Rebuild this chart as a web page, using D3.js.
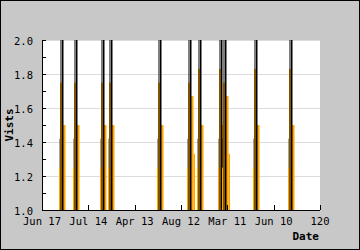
<!DOCTYPE html>
<html>
<head>
<meta charset="utf-8">
<script src="https://cdn.jsdelivr.net/npm/d3@7"></script>
<style>
  html, body { margin: 0; padding: 0; background: #c8c8c8; }
  svg { display: block; }
  text { font-family: "DejaVu Sans Mono", monospace; }
</style>
</head>
<body>
<div id="chart"></div>
<script>
// Tick labels on the x axis (one every 20 units)
var xTicks = [0, 20, 40, 60, 80, 100, 120];
var xLabels = ["Jun 17", "Jul 14", "Apr 13", "Aug 12", "Mar 11", "Jun 10", "120"];

// Spikes: position, dark shaded top, orange bar top, small extra bar
var spikeX   = [8.6, 14.7, 26.3, 29.8, 50.9, 63.9, 68.2, 77.3, 79.0, 92.4, 107.5];
var shadeTop = [1.75, 1.75, 1.75, 1.75, 1.75, 1.75, 1.83, 1.83, 1.75, 1.83, 1.83];
var barTop   = [1.5, 1.5, 1.5, 1.5, 1.5, 1.67, 1.5, 1.5, 1.67, 1.5, 1.5];
var extraTop = [null, null, null, null, null, 1.33, null, null, 1.33, null, null];
var lowTop = 1.25;

var yTicks = [1.0, 1.2, 1.4, 1.6, 1.8, 2.0];

var width = 360, height = 250;
var pLeft = 42, pRight = 320, pTop = 40, pBottom = 210;

var svg = d3.select("#chart").append("svg")
    .attr("width", width)
    .attr("height", height);

// background with frame
svg.append("rect")
    .attr("x", 0.5).attr("y", 0.5)
    .attr("width", width - 1).attr("height", height - 1)
    .attr("fill", "#c8c8c8")
    .attr("stroke", "#000");

svg.append("rect")
    .attr("x", pLeft).attr("y", pTop)
    .attr("width", pRight - pLeft).attr("height", pBottom - pTop)
    .attr("fill", "#fff");

var x = d3.scaleLinear().domain([0, 120]).range([pLeft, pRight]);
var y = d3.scaleLinear().domain([1, 2]).range([pBottom, pTop]);

// grid lines
svg.append("g").selectAll("line").data(yTicks.slice(1))
    .enter().append("line")
    .attr("x1", pLeft).attr("x2", pRight)
    .attr("y1", function(d) { return Math.round(y(d)) + 0.5; })
    .attr("y2", function(d) { return Math.round(y(d)) + 0.5; })
    .attr("stroke", "#dcdcdc");

svg.append("clipPath").attr("id", "plot")
    .append("rect")
    .attr("x", pLeft).attr("y", pTop)
    .attr("width", pRight - pLeft).attr("height", pBottom - pTop);

var spikes = svg.append("g")
    .attr("clip-path", "url(#plot)")
    .selectAll("g").data(spikeX)
    .enter().append("g")
    .attr("transform", function(d) { return "translate(" + Math.round(x(d)) + ",0)"; });

// orange bars
spikes.append("rect")
    .attr("x", -3).attr("width", 1)
    .attr("y", y(lowTop))
    .attr("height", pBottom - y(lowTop))
    .attr("fill", "#ffa500");

spikes.append("rect")
    .attr("x", -2).attr("width", 2)
    .attr("y", function(d, i) { return y(shadeTop[i]); })
    .attr("height", function(d, i) { return pBottom - y(shadeTop[i]); })
    .attr("fill", "#ffa500");

spikes.append("rect")
    .attr("x", 1).attr("width", 2.5)
    .attr("y", function(d, i) { return y(barTop[i]); })
    .attr("height", function(d, i) { return pBottom - y(barTop[i]); })
    .attr("fill", "#ffa500");

spikes.filter(function(d, i) { return extraTop[i] != null; })
    .append("rect")
    .attr("x", 3.5).attr("width", 1.5)
    .attr("y", function(d) { return y(extraTop[spikeX.indexOf(d)]); })
    .attr("height", function(d) { return pBottom - y(extraTop[spikeX.indexOf(d)]); })
    .attr("fill", "#ffa500");

// translucent shading of the steep line
spikes.append("rect")
    .attr("x", -2).attr("width", 2)
    .attr("y", pTop).attr("height", pBottom - pTop)
    .attr("fill", "#000").attr("fill-opacity", 0.5);

spikes.append("rect")
    .attr("x", -3).attr("width", 1)
    .attr("y", y(1.42)).attr("height", y(lowTop) - y(1.42))
    .attr("fill", "#000").attr("fill-opacity", 0.35);

// black line
spikes.append("rect")
    .attr("x", 0).attr("width", 1.5)
    .attr("y", pTop).attr("height", pBottom - pTop)
    .attr("fill", "#000");

// axes
var axes = svg.append("g").attr("stroke", "#000").attr("shape-rendering", "crispEdges");
axes.append("line").attr("x1", pLeft + 0.5).attr("x2", pLeft + 0.5).attr("y1", pTop).attr("y2", pBottom + 1);
axes.append("line").attr("x1", pLeft).attr("x2", pRight).attr("y1", pBottom + 0.5).attr("y2", pBottom + 0.5);

axes.selectAll(".yt").data(d3.range(1, 2.001, 0.1))
    .enter().append("line")
    .attr("x1", pLeft).attr("x2", pLeft + 4)
    .attr("y1", function(d) { return Math.round(y(d)) + 0.5; })
    .attr("y2", function(d) { return Math.round(y(d)) + 0.5; });

axes.selectAll(".xt").data(xTicks)
    .enter().append("line")
    .attr("x1", function(d) { return Math.round(x(d)) + 0.5; })
    .attr("x2", function(d) { return Math.round(x(d)) + 0.5; })
    .attr("y1", pBottom - 5).attr("y2", pBottom);

// tick labels
svg.append("g").selectAll("text").data(yTicks)
    .enter().append("text")
    .attr("x", 33)
    .attr("y", function(d) { return y(d) + 5; })
    .attr("text-anchor", "end")
    .attr("font-size", 10.5)
    .text(function(d) { return d3.format(".1f")(d); });

svg.append("g").selectAll("text").data(xTicks)
    .enter().append("text")
    .attr("x", function(d) { return x(d); })
    .attr("y", 225)
    .attr("text-anchor", "middle")
    .attr("font-size", 10.5)
    .text(function(d, i) { return xLabels[i]; });

// axis titles
svg.append("text")
    .attr("x", 319).attr("y", 240)
    .attr("text-anchor", "end")
    .attr("font-size", 11).attr("font-weight", "bold")
    .text("Date");

svg.append("text")
    .attr("transform", "translate(13,125) rotate(-90)")
    .attr("text-anchor", "middle")
    .attr("font-size", 11).attr("font-weight", "bold")
    .text("Vists");
</script>
</body>
</html>
